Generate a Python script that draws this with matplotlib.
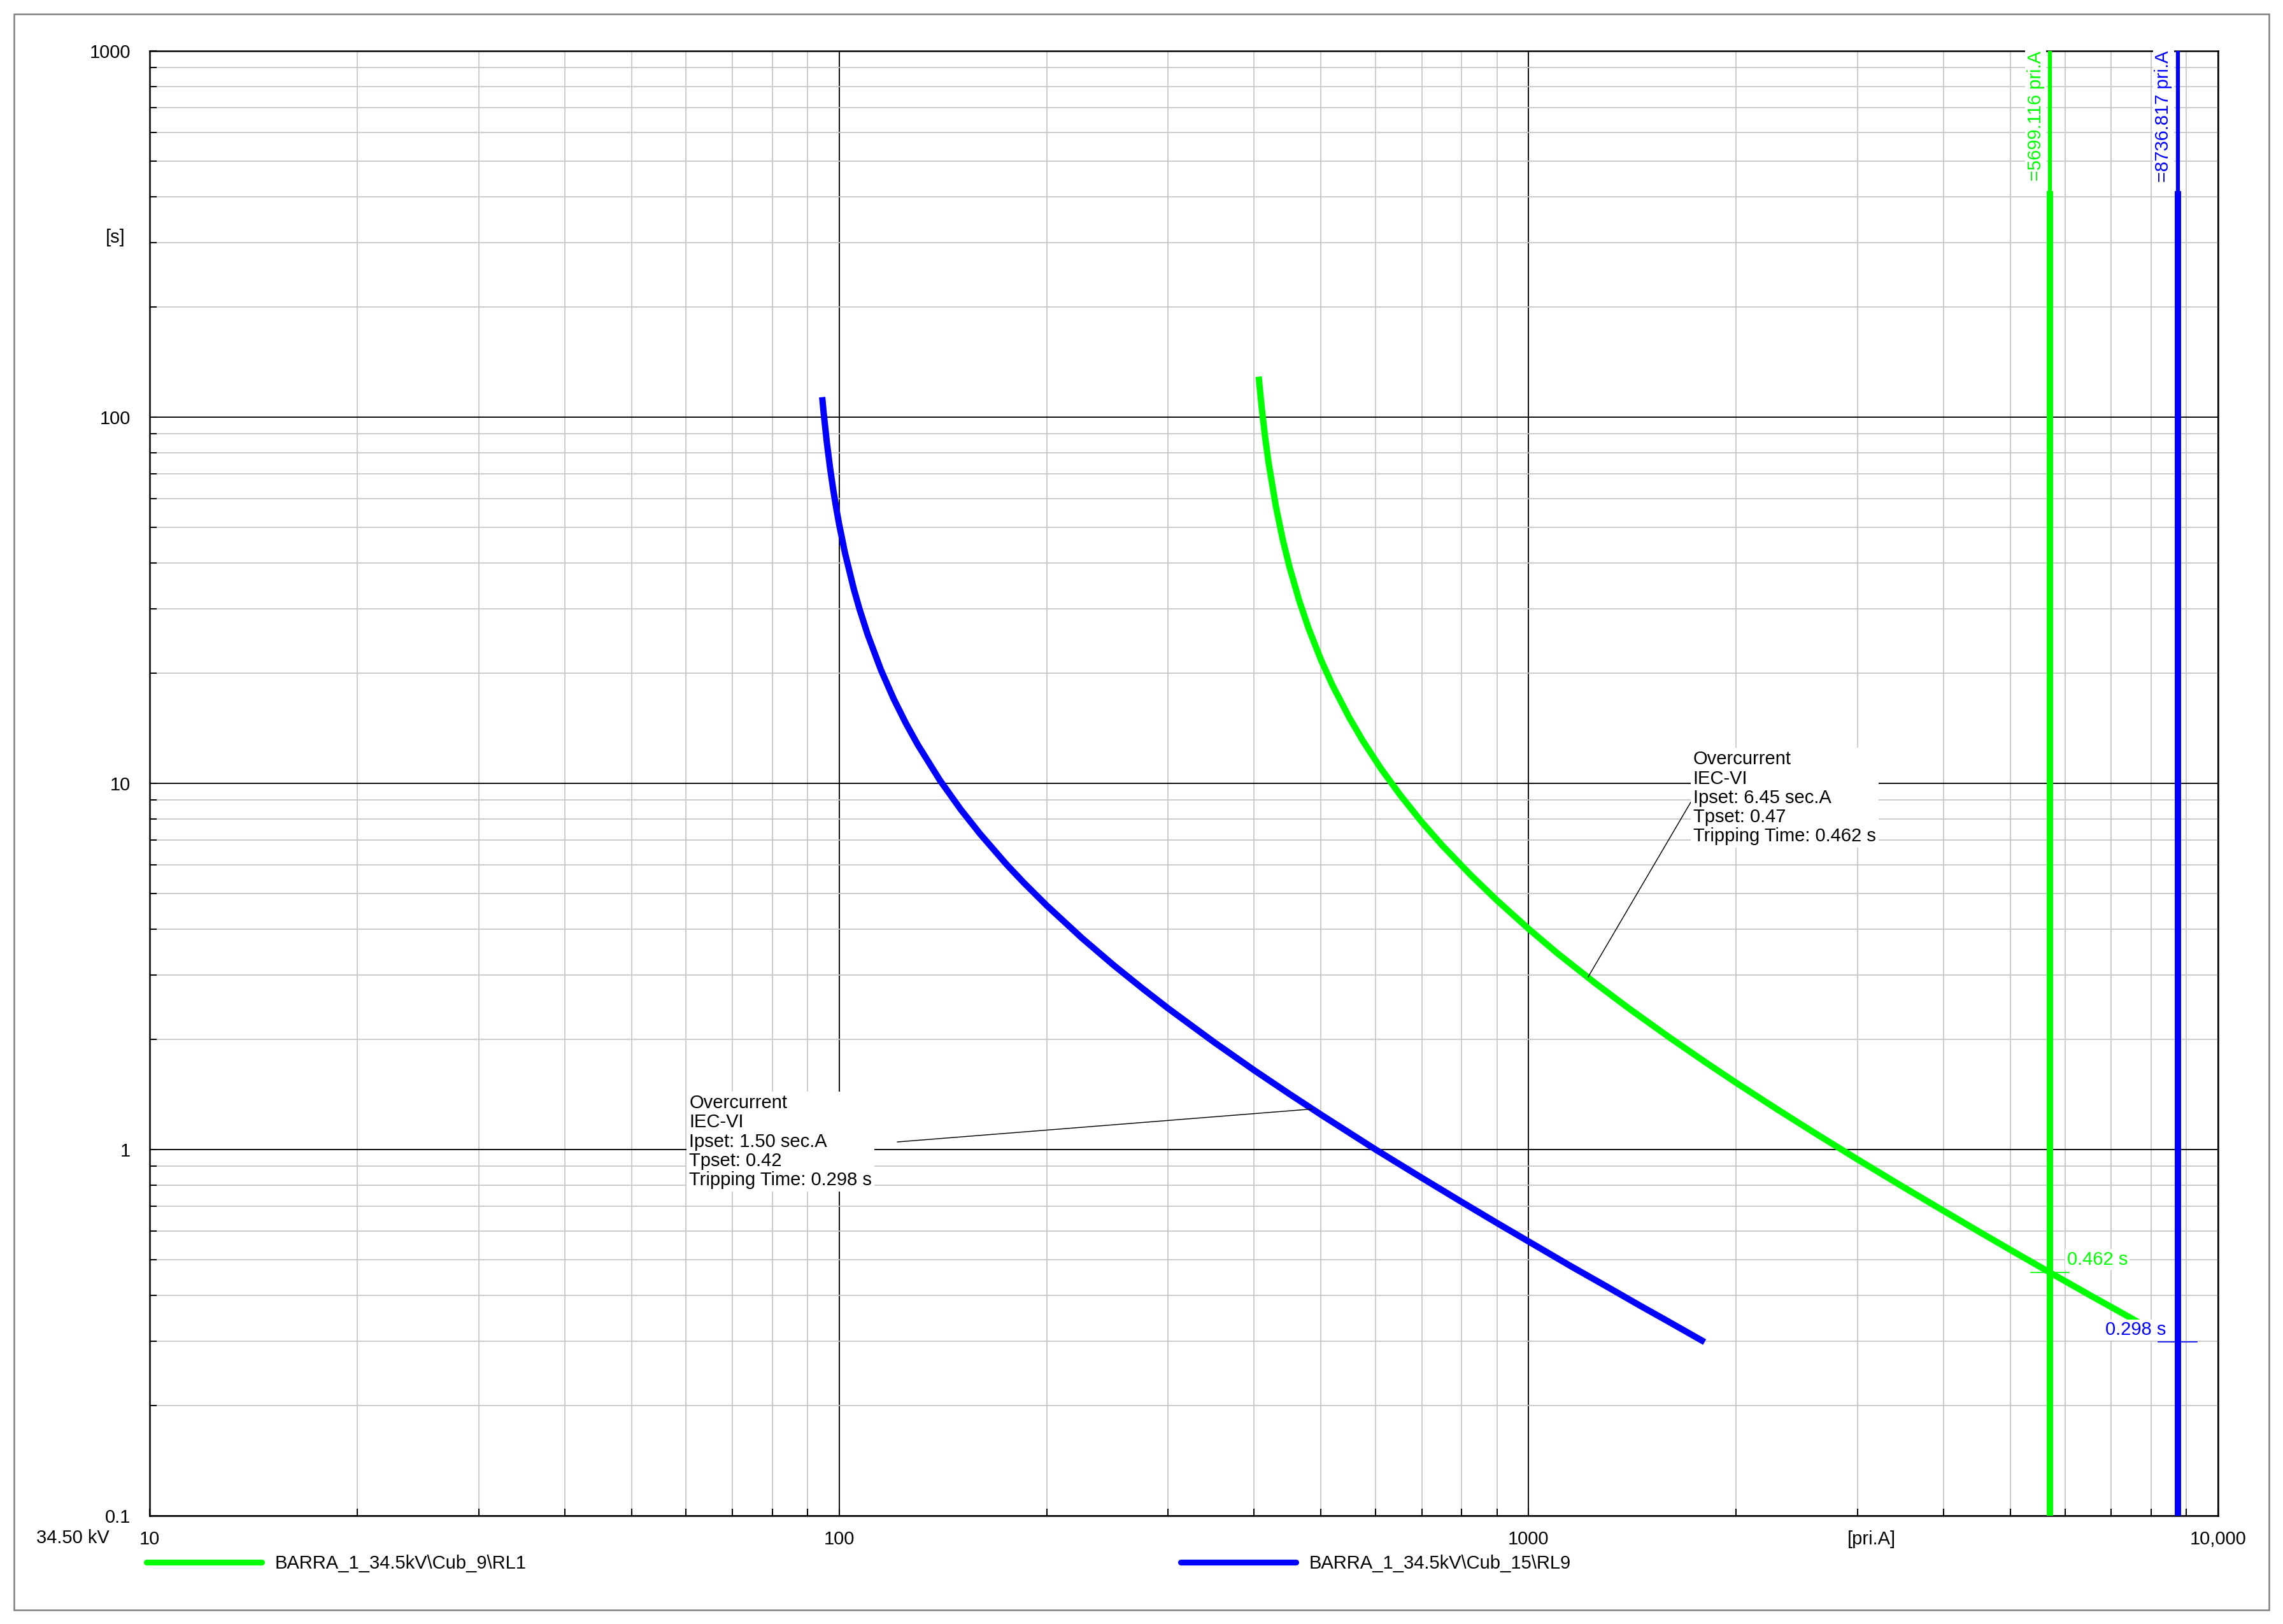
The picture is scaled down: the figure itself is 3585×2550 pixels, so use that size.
import matplotlib.pyplot as plt
from matplotlib.ticker import FixedLocator, FixedFormatter, LogLocator, NullFormatter
from matplotlib.lines import Line2D
from matplotlib.patches import Rectangle

plt.rcParams['font.family'] = ['Liberation Sans', 'DejaVu Sans']

# RL9 (plava) - struja [pri.A], vrijeme [s]
struja_rl9 = [94.5, 95, 96, 97, 98, 99, 100, 102, 105, 107, 110, 115, 120, 125, 130,
              140, 150, 160, 175, 185, 200, 225, 250, 275, 300, 350, 400, 450, 500,
              600, 700, 800, 900, 1000, 1150, 1300, 1450, 1600, 1800]
vrijeme_rl9 = [113.4, 102.1, 85.0, 72.9, 63.8, 56.7, 51.0, 42.5, 34.0, 30.0, 25.5,
               20.4, 17.0, 14.58, 12.76, 10.2, 8.50, 7.29, 6.00, 5.37, 4.64, 3.78,
               3.19, 2.76, 2.43, 1.963, 1.646, 1.418, 1.245, 1.0, 0.837, 0.719, 0.630,
               0.561, 0.481, 0.422, 0.375, 0.338, 0.298]

# RL1 (zelena)
struja_rl1 = [406, 410, 415, 420, 430, 440, 450, 465, 480, 500, 520, 550, 575, 610,
              650, 700, 750, 825, 900, 1000, 1100, 1250, 1400, 1600, 1800, 2000, 2300,
              2600, 3000, 3500, 4000, 4500, 5000, 5699, 6600, 7100, 7740]
vrijeme_rl1 = [129, 106.8, 87.6, 74.4, 57.1, 46.3, 39.0, 31.5, 26.4, 21.73, 18.46,
               15.07, 13.06, 11.01, 9.34, 7.84, 6.76, 5.61, 4.79, 4.006, 3.44, 2.845,
               2.424, 2.025, 1.738, 1.522, 1.284, 1.110, 0.940, 0.789, 0.680, 0.597,
               0.532, 0.462, 0.395, 0.366, 0.334]

nazivi = ['BARRA_1_34.5kV\\Cub_9\\RL1', 'BARRA_1_34.5kV\\Cub_15\\RL9']
boje = ['#00ff00', '#0000ff']
struje_kvara = [5699.116, 8736.817]
vremena_okidanja = [0.462, 0.298]
opisi = ['Overcurrent\nIEC-VI\nIpset: 6.45 sec.A\nTpset: 0.47\nTripping Time: 0.462 s',
         'Overcurrent\nIEC-VI\nIpset: 1.50 sec.A\nTpset: 0.42\nTripping Time: 0.298 s']
x_oznake = [10, 100, 1000, 10000]
x_tekst = ['10', '100', '1000', '10,000']
y_oznake = [0.1, 1, 10, 100, 1000]
y_tekst = ['0.1', '1', '10', '100', '1000']

fs = 7
fig = plt.figure(figsize=(3585 / 300, 2550 / 300), dpi=300)
ax = fig.add_axes([235 / 3585, 1 - 2380 / 2550, 3248 / 3585, 2300 / 2550])
ax.set_xscale('log')
ax.set_yscale('log')
ax.set_xlim(10, 10000)
ax.set_ylim(0.1, 1000)

ax.xaxis.set_major_locator(FixedLocator(x_oznake))
ax.xaxis.set_major_formatter(FixedFormatter(x_tekst))
ax.yaxis.set_major_locator(FixedLocator(y_oznake))
ax.yaxis.set_major_formatter(FixedFormatter(y_tekst))
for os_ in (ax.xaxis, ax.yaxis):
    os_.set_minor_locator(LogLocator(base=10, subs=range(2, 10)))
    os_.set_minor_formatter(NullFormatter())
ax.tick_params(which='both', direction='in', length=2.6, width=0.5, labelsize=fs)
ax.tick_params(axis='y', which='both', pad=7.2)
ax.tick_params(axis='x', which='both', pad=5.5)
ax.grid(which='major', color='black', lw=0.45)
ax.grid(which='minor', color='#c4c4c4', lw=0.4)
ax.set_axisbelow(True)
for s in ax.spines.values():
    s.set_linewidth(0.6)

# krivulje
ax.plot(struja_rl1, vrijeme_rl1, color=boje[0], lw=2.4, solid_capstyle='butt',
        solid_joinstyle='round')
ax.plot(struja_rl9, vrijeme_rl9, color=boje[1], lw=2.4, solid_capstyle='butt',
        solid_joinstyle='round')

# okomite linije struje kvara
for ik, tk, c in zip(struje_kvara, vremena_okidanja, boje):
    ax.plot([ik, ik], [0.1, 414], color=c, lw=2.4, solid_capstyle='butt', zorder=4)
    ax.plot([ik, ik], [414, 1000], color=c, lw=1.5, solid_capstyle='butt', zorder=4)
    ax.plot([ik / 1.066, ik * 1.066], [tk, tk], color=c, lw=0.4, zorder=4)
    ax.annotate('=%.3f pri.A' % ik, xy=(ik, 1000), xytext=(-5.3, 0),
                textcoords='offset points', rotation=90, ha='center', va='top',
                color=c, fontsize=fs, zorder=5,
                bbox=dict(fc='white', ec='none', pad=0.6))

ax.annotate('0.462 s', xy=(struje_kvara[0], vremena_okidanja[0]), xytext=(6.5, 4.8),
            textcoords='offset points', ha='left', va='center', color=boje[0],
            fontsize=fs, zorder=5, bbox=dict(fc='white', ec='none', pad=0.6))
ax.annotate('0.298 s', xy=(struje_kvara[1], vremena_okidanja[1]), xytext=(-4.3, 4.6),
            textcoords='offset points', ha='right', va='center', color=boje[1],
            fontsize=fs, zorder=5, bbox=dict(fc='white', ec='none', pad=0.6))

# opisi releja
ax.plot([1220, 1733], [2.96, 9.12], color='black', lw=0.35, zorder=3)
ax.text(1733, 12.3, opisi[0], ha='left', va='top', fontsize=fs, linespacing=1.1,
        zorder=4, bbox=dict(fc='white', ec='none', pad=1.0))
ax.plot([485, 121.5], [1.29, 1.049], color='black', lw=0.35, zorder=3)
ax.text(60.6, 1.416, opisi[1], ha='left', va='top', fontsize=fs, linespacing=1.1,
        zorder=4, bbox=dict(fc='white', ec='none', pad=1.0))

# natpisi osi
fig.text(181 / 3585, 1 - 373 / 2550, '[s]', ha='center', va='center', fontsize=fs)
fig.text(57 / 3585, 1 - 2415 / 2550, '34.50 kV', ha='left', va='center', fontsize=fs)
fig.text(2939 / 3585, 1 - 2417 / 2550, '[pri.A]', ha='center', va='center', fontsize=fs)

# legenda
for i, x0 in enumerate([230, 1854]):
    h = Line2D([], [], color=boje[i], lw=2.2, solid_capstyle='round')
    fig.legend(handles=[h], labels=[nazivi[i]], loc='center left',
               bbox_to_anchor=(x0 / 3585, 1 - 2455 / 2550), frameon=False,
               fontsize=fs, handlelength=6.2, handletextpad=0.7,
               borderpad=0, borderaxespad=0)

fig.add_artist(Rectangle((22 / 3585, 1 - 2528 / 2550), 3541 / 3585, 2506 / 2550,
                         transform=fig.transFigure, fill=False, ec='#808080', lw=0.6))

fig.savefig('out.png', dpi=300)
